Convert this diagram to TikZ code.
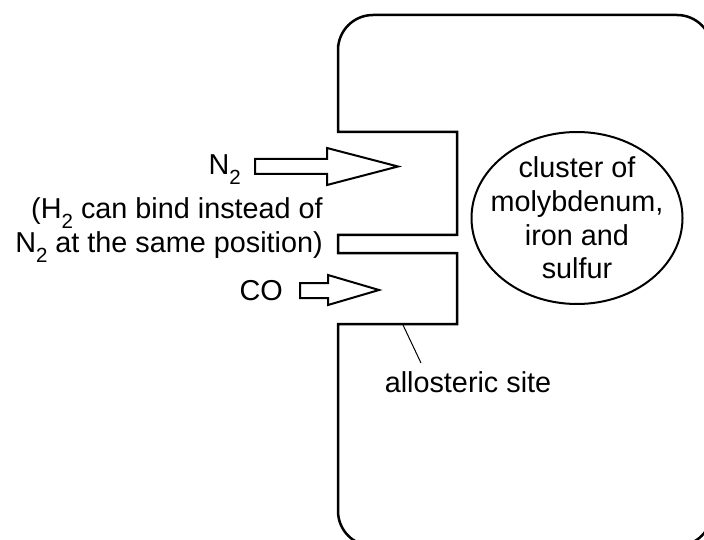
\documentclass[tikz,border=0pt]{standalone}
\usepackage{fontspec}
\setmainfont{Liberation Sans}
\usetikzlibrary{shapes.geometric}
\newcommand{\sbtwo}{\raisebox{-10pt}[0pt][0pt]{\fontsize{20.5}{20.5}\selectfont 2}}
\begin{document}
\begin{tikzpicture}[x=1pt,y=-1pt,
  lbl/.style={font=\fontsize{28.8}{34}\selectfont, inner sep=0pt},
  arrowshape/.style={draw=black, fill=white, line width=2pt, line join=miter},
  outline/.style={draw=black, line width=2.5pt, line join=miter}]
\useasboundingbox (0,0) rectangle (704,540);
\clip (0,0) rectangle (704,540);
% protein outline
\draw[outline] (338,400) [rounded corners=35pt] -- (338,546) -- (712,546) -- (712,15) -- (338,15) -- (338,80)
  [sharp corners] -- (338,132) -- (457,132) -- (457,235) -- (338,235) -- (338,253) -- (457,253) -- (457,324) -- (338,324) -- cycle;
% cluster
\node[ellipse, draw=black, line width=2pt, minimum width=211pt, minimum height=172pt, inner sep=0pt,
  label={[align=center, inner sep=0pt, font=\fontsize{28.8}{33.7}\selectfont]center:cluster of\\molybdenum,\\iron and\\sulfur}]
  (cluster) at (577,218) {};
% arrows
\draw[arrowshape] (255,159) -- (327,159) -- (327,148) -- (398,166.5) -- (327,185) -- (327,174) -- (255,174) -- cycle;
\draw[arrowshape] (300,283) -- (328,283) -- (328,275) -- (379,290) -- (328,305) -- (328,298) -- (300,298) -- cycle;
% labels
\node[lbl, anchor=base east] (n2) at (241,175) {N\sbtwo};
\node[lbl, anchor=base east, align=right] (h2) at (323,252) {(H\sbtwo{} can bind instead of\\N\sbtwo{} at the same position)};
\node[lbl, anchor=base east] (co) at (283,300) {CO};
\node[lbl, anchor=base] (allo) at (468,392) {allosteric site};
\coordinate (site) at (403,325);
\coordinate (lead) at (421,363);
\draw[line width=1pt] (site) -- (lead);
\end{tikzpicture}
\end{document}
